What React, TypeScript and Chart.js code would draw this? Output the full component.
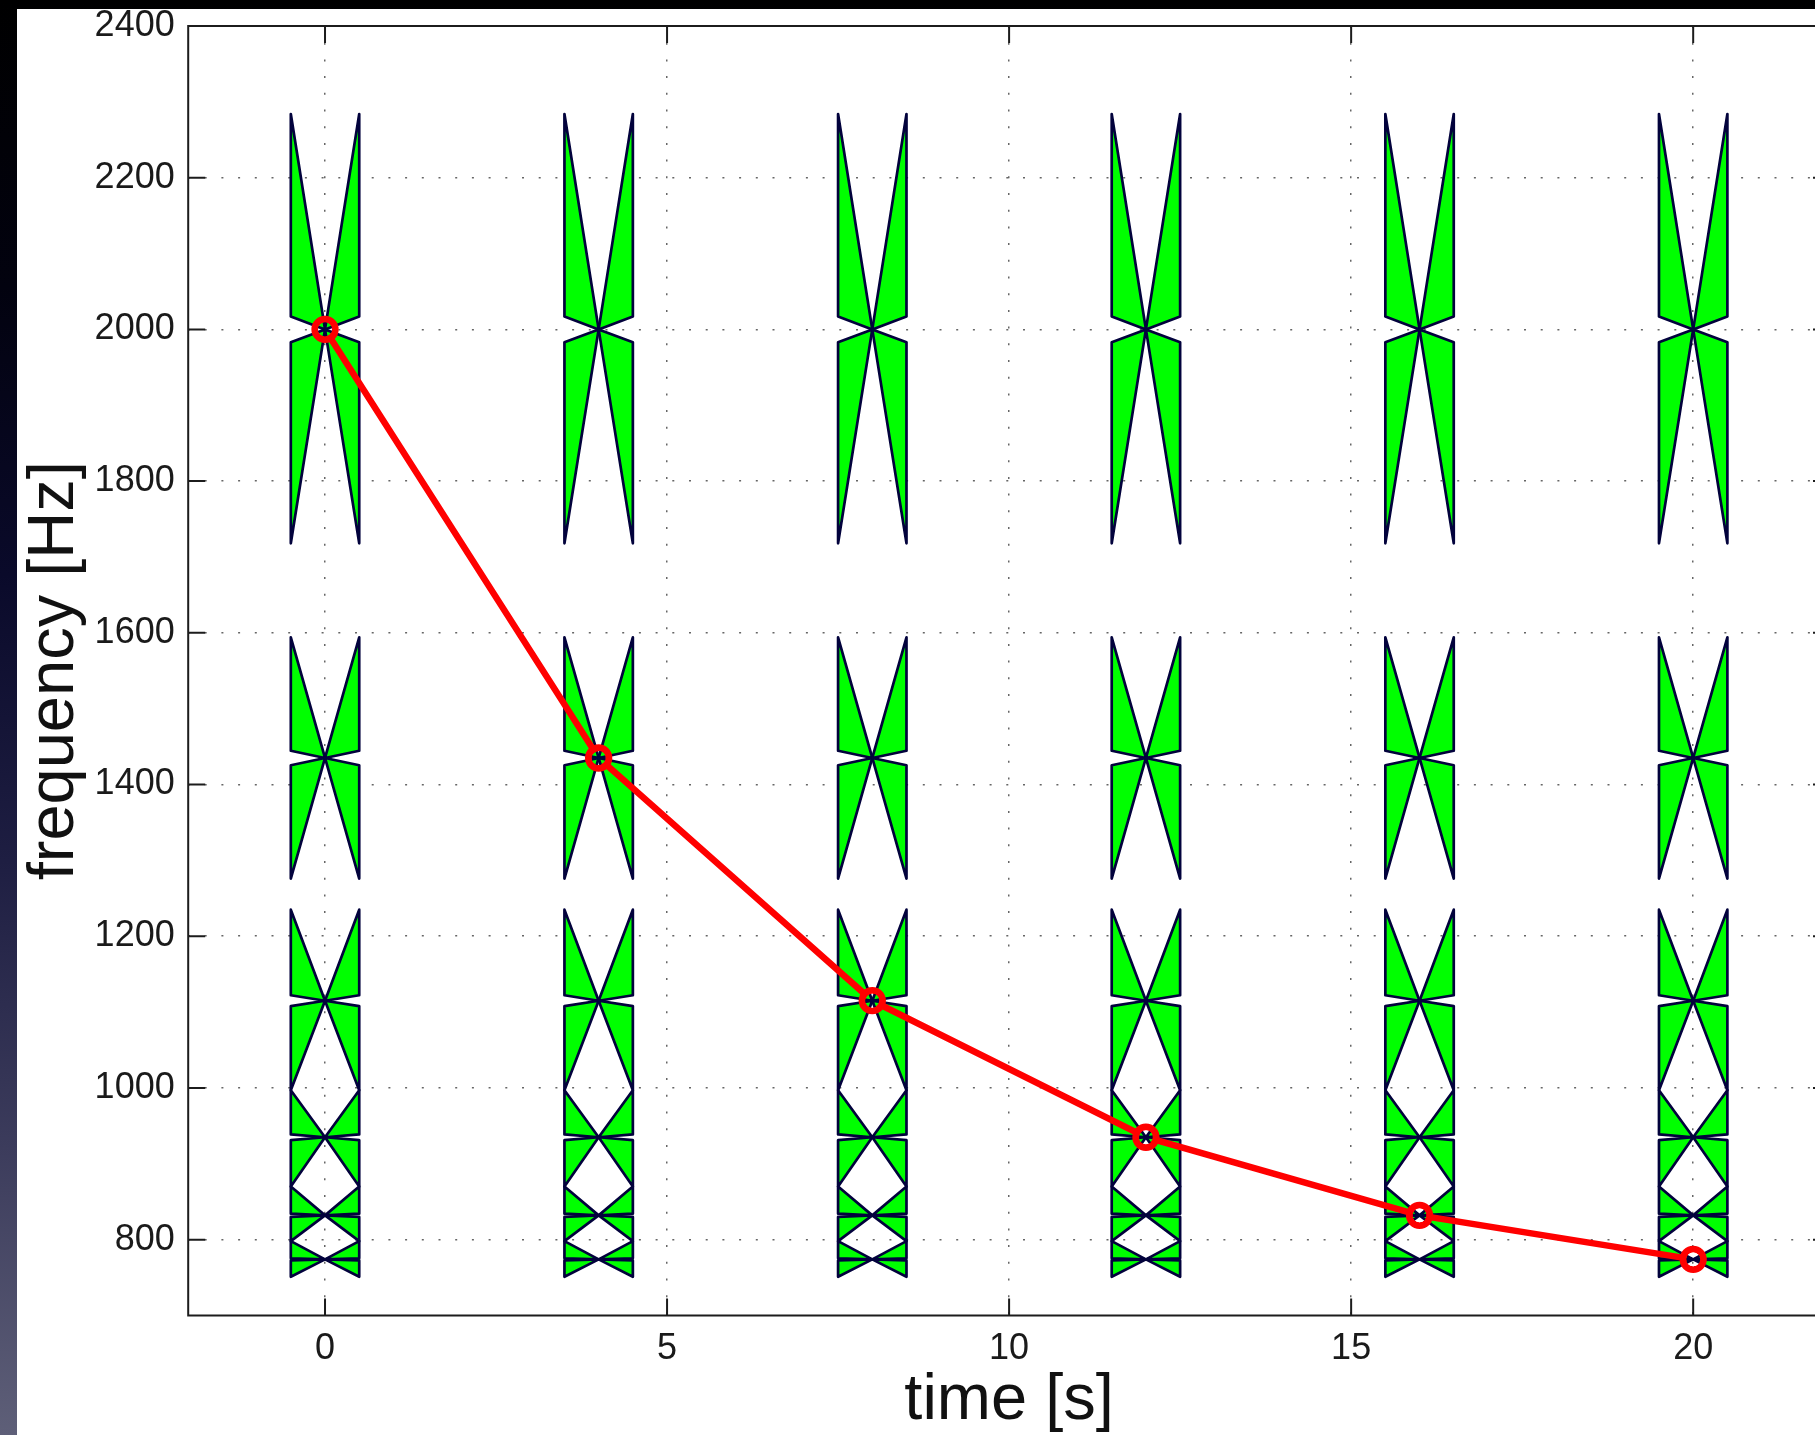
import React, { useEffect, useRef } from 'react';
import { Chart, registerables } from 'chart.js';

Chart.register(...registerables);

// Sample instants (s) and the tracked peak frequency (Hz) at each of them
const TIMES = [0, 4, 8, 12, 16, 20];
const PEAK_FREQ = [2000, 1435, 1115, 935, 832, 774];

// Frequency bands drawn as hourglass glyphs in every time column (Hz)
const BAND_CENTER = [2000, 1435, 1115, 935, 832, 774];
const BAND_UPPER = [2284, 1594, 1235, 997, 870, 798];
const BAND_LOWER = [1718, 1276, 997, 870, 798, 751];

// Axis ticks and ranges
const X_TICKS = [0, 5, 10, 15, 20];
const Y_TICKS = [800, 1000, 1200, 1400, 1600, 1800, 2000, 2200, 2400];
const X_MIN = -2;
const X_MAX = 22;
const Y_MIN = 700;
const Y_MAX = 2400;

const FONT = "'Liberation Sans', Arial, Helvetica, sans-serif";
const GLYPH_FILL = '#00ff00';
const GLYPH_EDGE = '#02023c';
const GLYPH_HALF_WIDTH = 0.5; // in seconds
const GLYPH_KINK = 0.06; // fraction of the half band where the outer edge folds to the centre
const AXIS_COLOR = '#1c1c1c';
const GRID_COLOR = '#666666';
const TICK_LEN = 17;
const MARKER_RADIUS = 10.3;
const MARKER_STROKE = 6.7;

// canvas geometry
const CANVAS_W = 1830;
const CANVAS_H = 1450;

const bandGlyphs = {
  id: 'bandGlyphs',
  beforeDatasetsDraw(chart: any) {
    const { ctx, chartArea, scales } = chart;
    const xs = scales.x;
    const ys = scales.y;
    ctx.save();
    ctx.beginPath();
    ctx.rect(chartArea.left, chartArea.top, chartArea.right - chartArea.left, chartArea.bottom - chartArea.top);
    ctx.clip();
    ctx.fillStyle = GLYPH_FILL;
    ctx.strokeStyle = GLYPH_EDGE;
    ctx.lineWidth = 2.7;
    ctx.lineJoin = 'round';
    const tri = (ax: number, ay: number, bx: number, by: number, cx: number, cy: number) => {
      ctx.beginPath();
      ctx.moveTo(ax, ay);
      ctx.lineTo(bx, by);
      ctx.lineTo(cx, cy);
      ctx.closePath();
      ctx.fill();
      ctx.stroke();
    };
    TIMES.forEach((t) => {
      const xl = xs.getPixelForValue(t - GLYPH_HALF_WIDTH);
      const xc = xs.getPixelForValue(t);
      const xr = xs.getPixelForValue(t + GLYPH_HALF_WIDTH);
      BAND_CENTER.forEach((fc, i) => {
        const yc = ys.getPixelForValue(fc);
        const yt = ys.getPixelForValue(BAND_UPPER[i]);
        const yb = ys.getPixelForValue(BAND_LOWER[i]);
        const kt = yc + (yt - yc) * GLYPH_KINK;
        const kb = yc + (yb - yc) * GLYPH_KINK;
        tri(xl, yt, xc, yc, xl, kt);
        tri(xr, yt, xc, yc, xr, kt);
        tri(xl, yb, xc, yc, xl, kb);
        tri(xr, yb, xc, yc, xr, kb);
      });
    });
    ctx.restore();
  },
  // the trace is not painted inside the hollow of its circle markers
  beforeDatasetDraw(chart: any) {
    const { ctx, scales } = chart;
    const hole = MARKER_RADIUS - MARKER_STROKE / 2 - 0.1;
    ctx.save();
    ctx.beginPath();
    ctx.rect(0, 0, chart.width, chart.height);
    TIMES.forEach((t, i) => {
      const px = scales.x.getPixelForValue(t);
      const py = scales.y.getPixelForValue(PEAK_FREQ[i]);
      ctx.moveTo(px + hole, py);
      ctx.arc(px, py, hole, 0, Math.PI * 2);
    });
    ctx.clip('evenodd');
  },
  afterDatasetDraw(chart: any) {
    chart.ctx.restore();
  },
};

const boxAxes = {
  id: 'boxAxes',
  afterDraw(chart: any) {
    const { ctx, chartArea, scales } = chart;
    const { left, top, right, bottom } = chartArea;
    ctx.save();
    ctx.strokeStyle = AXIS_COLOR;
    ctx.lineWidth = 2;
    ctx.lineCap = 'butt';
    ctx.beginPath();
    ctx.moveTo(left, top);
    ctx.lineTo(right, top);
    ctx.lineTo(right, bottom);
    ctx.lineTo(left, bottom);
    ctx.closePath();
    Y_TICKS.forEach((v) => {
      const py = scales.y.getPixelForValue(v);
      ctx.moveTo(left, py);
      ctx.lineTo(left + TICK_LEN, py);
      ctx.moveTo(right, py);
      ctx.lineTo(right - TICK_LEN, py);
    });
    X_TICKS.forEach((v) => {
      const px = scales.x.getPixelForValue(v);
      ctx.moveTo(px, bottom);
      ctx.lineTo(px, bottom - TICK_LEN);
      ctx.moveTo(px, top);
      ctx.lineTo(px, top + TICK_LEN);
    });
    ctx.stroke();
    ctx.restore();
  },
};

const noLabelOverflow = (s: any) => {
  s.paddingTop = 0;
  s.paddingBottom = 0;
  s.paddingLeft = 0;
  s.paddingRight = 0;
};

export default function App() {
  const canvasRef = useRef<HTMLCanvasElement | null>(null);

  useEffect(() => {
    const canvas = canvasRef.current;
    if (!canvas) return;
    const chart = new Chart(canvas, {
      type: 'line',
      data: {
        datasets: [
          {
            data: TIMES.map((t, i) => ({ x: t, y: PEAK_FREQ[i] })),
            borderColor: '#ff0000',
            borderWidth: 6.5,
            tension: 0,
            pointRadius: MARKER_RADIUS,
            pointHoverRadius: MARKER_RADIUS,
            pointBorderWidth: MARKER_STROKE,
            pointBorderColor: '#ff0000',
            pointBackgroundColor: 'rgba(0,0,0,0)',
            pointStyle: 'circle',
          },
        ],
      },
      options: {
        animation: false,
        responsive: false,
        maintainAspectRatio: false,
        devicePixelRatio: 1,
        events: [],
        layout: { padding: { top: 12, left: 0, right: 14, bottom: 13.5 } },
        plugins: {
          legend: { display: false },
          tooltip: { enabled: false },
        },
        scales: {
          x: {
            type: 'linear',
            min: X_MIN,
            max: X_MAX,
            afterBuildTicks: (s: any) => {
              s.ticks = X_TICKS.map((v) => ({ value: v }));
            },
            afterFit: (s: any) => {
              s.height = 130;
              noLabelOverflow(s);
            },
            grid: { color: GRID_COLOR, lineWidth: 1.5, drawTicks: false },
            border: { display: false, dash: [2, 14.7] },
            ticks: {
              font: { family: FONT, size: 36 },
              color: '#1a1a1a',
              padding: 12,
              maxRotation: 0,
              autoSkip: false,
              callback: (v: any) => String(v),
            },
            title: {
              display: true,
              text: 'time [s]',
              font: { family: FONT, size: 65, lineHeight: 1.2 },
              color: '#111111',
              padding: { top: 0, bottom: 5.7 },
            },
          },
          y: {
            type: 'linear',
            min: Y_MIN,
            max: Y_MAX,
            afterBuildTicks: (s: any) => {
              s.ticks = Y_TICKS.map((v) => ({ value: v }));
            },
            afterFit: (s: any) => {
              s.width = 171.2;
              noLabelOverflow(s);
            },
            grid: { color: GRID_COLOR, lineWidth: 1.5, drawTicks: false },
            border: { display: false, dash: [2, 14.7] },
            ticks: {
              font: { family: FONT, size: 36 },
              color: '#1a1a1a',
              padding: 13.5,
              autoSkip: false,
              callback: (v: any) => String(v),
            },
            title: {
              display: true,
              text: 'frequency [Hz]',
              font: { family: FONT, size: 65, lineHeight: 1.163 },
              color: '#111111',
              padding: { top: 0, bottom: 0 },
            },
          },
        },
      },
      plugins: [bandGlyphs, boxAxes],
    } as any);
    return () => chart.destroy();
  }, []);

  return (
    <div
      style={{
        position: 'fixed',
        left: 0,
        top: 0,
        width: 1815,
        height: 1435,
        overflow: 'hidden',
        background:
          'linear-gradient(to bottom, #000000 0%, #02020f 20%, #0a0a2a 40%, #1e1e42 60%, #3c3c5c 80%, #5e5f78 100%)',
      }}
    >
      <div
        style={{
          position: 'absolute',
          left: 17,
          top: 9,
          width: CANVAS_W,
          height: CANVAS_H,
          overflow: 'hidden',
          background: '#ffffff',
        }}
      >
        <canvas
          ref={canvasRef}
          width={CANVAS_W}
          height={CANVAS_H}
          style={{ display: 'block', width: CANVAS_W, height: CANVAS_H }}
        />
      </div>
    </div>
  );
}
